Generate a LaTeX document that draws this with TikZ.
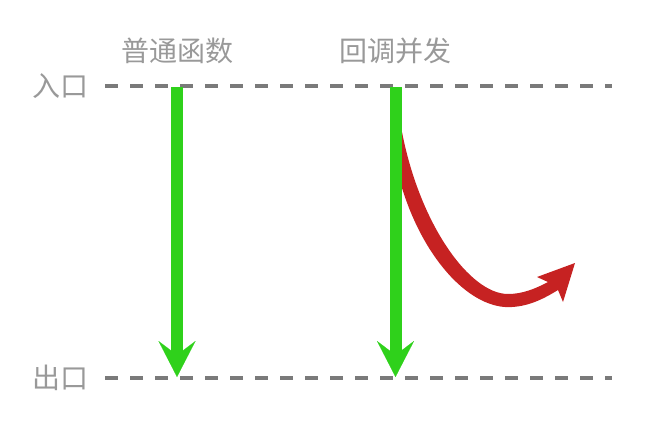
\documentclass[tikz,border=0pt]{standalone}
\usepackage{fontspec}
\newfontfamily\cjk{Noto Sans CJK SC}
\usetikzlibrary{arrows.meta}
\definecolor{lblgray}{HTML}{999999}
\definecolor{dashgray}{HTML}{7A7A7A}
\definecolor{flowgreen}{HTML}{2FD11B}
\definecolor{cbred}{HTML}{C62222}
\begin{document}
\begin{tikzpicture}[x=1pt,y=-1pt,
  lbl/.style={text=lblgray, font=\cjk\fontsize{28}{28}\selectfont, inner sep=0pt},
  levelline/.style={draw=dashgray, line width=4pt, dash pattern=on 13pt off 12pt},
  flowarrow/.style={draw=flowgreen, line width=12pt,
    -{Stealth[length=36pt,width=37pt,inset=14pt,line width=0.1pt]}},
]
\useasboundingbox (0,0) rectangle (652,434);
% labels
\node[lbl] (t1) at (177,51) {普通函数};
\node[lbl] (t2) at (395.5,51) {回调并发};
\node[lbl] (in) at (60,86) {入口};
\node[lbl] (out) at (60,377.5) {出口};
% level lines
\coordinate (inA) at (105,85.5);
\coordinate (inB) at (612,85.5);
\coordinate (outA) at (105,378);
\coordinate (outB) at (612,378);
\draw[levelline] (inA) -- (inB);
\draw[levelline] (outA) -- (outB);
% green flow arrows
\coordinate (s1) at (177,87);
\coordinate (e1) at (177,377);
\coordinate (s2) at (395.5,87);
\coordinate (e2) at (395.5,377);
\draw[flowarrow] (s1) -- (e1);
\draw[flowarrow] (s2) -- (e2);
% red callback arrow
\fill[cbred] (402,132) -- (402,188) .. controls (425,262) and (472,310) .. (512,307)
  .. controls (530,306) and (545,298) .. (558,290) -- (563,302) -- (575,263)
  -- (537,277) -- (548,282) .. controls (535,289) and (522,294) .. (508,294)
  .. controls (470,294) and (420,225) .. (402,132) -- cycle;
\end{tikzpicture}
\end{document}
